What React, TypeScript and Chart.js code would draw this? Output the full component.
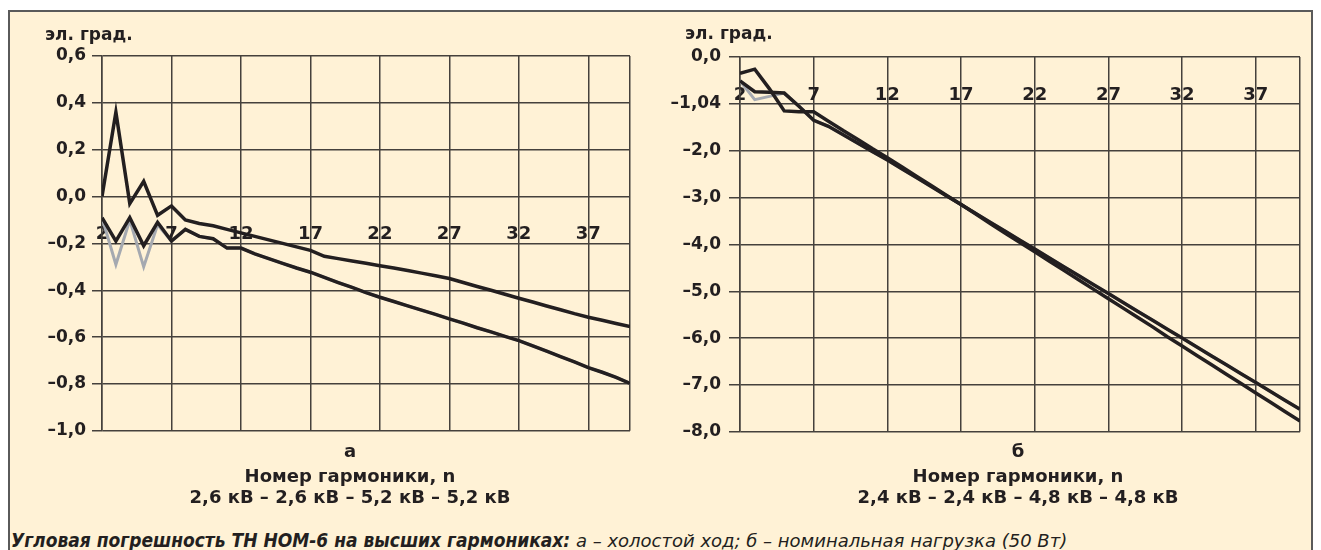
import React, { useEffect, useRef } from 'react';
import { Chart, registerables } from 'chart.js';

Chart.register(...registerables);

// ---------- data ----------
const harmonics = [2, 3, 4, 5, 6, 7, 8, 9, 10, 11, 12, 13, 14, 15, 16, 17, 18, 19, 20, 21, 22, 23, 24, 25, 26, 27, 28, 29, 30, 31, 32, 33, 34, 35, 36, 37, 38, 39, 40];

// panel а – холостой ход
const leftTop = [0.0, 0.36, -0.03, 0.065, -0.08, -0.04, -0.1, -0.115, -0.125, -0.14, -0.155, -0.17, -0.185, -0.2, -0.215, -0.23, -0.255, -0.265, -0.275, -0.285, -0.295, -0.305, -0.316, -0.327, -0.338, -0.35, -0.367, -0.384, -0.4, -0.417, -0.434, -0.45, -0.467, -0.483, -0.5, -0.515, -0.528, -0.542, -0.555];
const leftBottom = [-0.09, -0.19, -0.09, -0.21, -0.11, -0.19, -0.14, -0.17, -0.18, -0.22, -0.22, -0.245, -0.265, -0.285, -0.305, -0.323, -0.345, -0.367, -0.388, -0.41, -0.43, -0.448, -0.467, -0.485, -0.503, -0.522, -0.54, -0.56, -0.578, -0.597, -0.615, -0.637, -0.66, -0.683, -0.706, -0.73, -0.75, -0.772, -0.798];
const leftGray = [-0.09, -0.29, -0.1, -0.3, -0.12, -0.19, -0.14, -0.17, -0.18, -0.22, -0.22, -0.245, -0.265, -0.285, -0.305, -0.323, -0.345, -0.367, -0.388, -0.41, -0.43, -0.448, -0.467, -0.485, -0.503, -0.522, -0.54, -0.56, -0.578, -0.597, -0.615, -0.637, -0.66, -0.683, -0.706, -0.73, -0.75, -0.772, -0.798];

// panel б – номинальная нагрузка
const rightA = [-0.35, -0.26, -0.68, -1.15, -1.17, -1.17, -1.37, -1.57, -1.76, -1.96, -2.15, -2.35, -2.55, -2.75, -2.95, -3.15, -3.35, -3.56, -3.76, -3.96, -4.16, -4.36, -4.56, -4.76, -4.96, -5.16, -5.36, -5.56, -5.76, -5.97, -6.17, -6.37, -6.57, -6.77, -6.97, -7.17, -7.37, -7.57, -7.77];
const rightB = [-0.51, -0.74, -0.75, -0.77, -1.05, -1.35, -1.48, -1.66, -1.84, -2.02, -2.2, -2.39, -2.58, -2.77, -2.96, -3.15, -3.34, -3.53, -3.72, -3.91, -4.1, -4.29, -4.48, -4.67, -4.86, -5.05, -5.24, -5.43, -5.62, -5.81, -6.0, -6.19, -6.38, -6.57, -6.76, -6.95, -7.14, -7.33, -7.52];
const rightGray = [-0.51, -0.91, -0.84, -0.77, -1.05, -1.35, -1.48, -1.66, -1.84, -2.02, -2.2, -2.39, -2.58, -2.77, -2.96, -3.15, -3.34, -3.53, -3.72, -3.91, -4.1, -4.29, -4.48, -4.67, -4.86, -5.05, -5.24, -5.43, -5.62, -5.81, -6.0, -6.19, -6.38, -6.57, -6.76, -6.95, -7.14, -7.33, -7.52];

const xTickValues = [2, 7, 12, 17, 22, 27, 32, 37, 40];
const xTickLabels = ['2', '7', '12', '17', '22', '27', '32', '37', ''];

const leftYTickValues = [0.6, 0.4, 0.2, 0, -0.2, -0.4, -0.6, -0.8, -1.0];
const leftYTickLabels = ['0,6', '0,4', '0,2', '0,0', '–0,2', '–0,4', '–0,6', '–0,8', '–1,0'];
const rightYTickValues = [0, -1, -2, -3, -4, -5, -6, -7, -8];
const rightYTickLabels = ['0,0', '–1,04', '–2,0', '–3,0', '–4,0', '–5,0', '–6,0', '–7,0', '–8,0'];

const unitLabel = 'эл. град.';
const xTitle = 'Номер гармоники, n';
const leftLetter = 'а';
const rightLetter = 'б';
const leftLegend = '2,6 кВ – 2,6 кВ – 5,2 кВ – 5,2 кВ';
const rightLegend = '2,4 кВ – 2,4 кВ – 4,8 кВ – 4,8 кВ';
const captionBold = 'Угловая погрешность ТН НОМ-6 на высших гармониках:';
const captionRest = ' а – холостой ход; б – номинальная нагрузка (50 Вт)';

// ---------- styles ----------
const FONT = "'DejaVu Sans', sans-serif";
const TEXT = '#231f20';
const GRID = '#45413c';
const CREAM = '#fff2d6';
const BLACK = '#231f20';
const GRAY = '#a5a9b0';

type Series = { values: number[]; color: string; width: number };

function buildConfig(
  series: Series[],
  yMin: number,
  yMax: number,
  yTicks: number[],
  yLabels: string[],
  xLabelAt: number,
  yAxisWidth: number,
  padding: { top: number; right: number; bottom: number; left: number },
  yPad: number,
  yTickLen: number
): any {
  return {
    type: 'line',
    data: {
      datasets: series.map((s) => ({
        data: harmonics.map((n, i) => ({ x: n, y: s.values[i] })),
        borderColor: s.color,
        borderWidth: s.width,
        pointRadius: 0,
        tension: 0,
        fill: false,
        borderJoinStyle: 'miter',
        borderCapStyle: 'butt',
      })),
    },
    options: {
      responsive: false,
      animation: false,
      events: [],
      layout: { padding },
      plugins: { legend: { display: false }, tooltip: { enabled: false }, title: { display: false } },
      scales: {
        x: {
          type: 'linear',
          min: 2,
          max: 40,
          position: { y: xLabelAt },
          afterBuildTicks: (s: any) => {
            s.ticks = xTickValues.map((v) => ({ value: v }));
          },
          ticks: {
            autoSkip: false,
            maxRotation: 0,
            padding: 0,
            color: TEXT,
            font: { family: FONT, weight: 'bold', size: 18 },
            callback: (v: number) => {
              const i = xTickValues.indexOf(v);
              return i >= 0 ? xTickLabels[i] : '';
            },
          },
          grid: { color: GRID, lineWidth: 1.5, drawTicks: false },
          border: { display: false },
        },
        y: {
          type: 'linear',
          min: yMin,
          max: yMax,
          afterBuildTicks: (s: any) => {
            s.ticks = yTicks.map((v) => ({ value: v }));
          },
          afterFit: (s: any) => {
            s.width = yAxisWidth;
          },
          ticks: {
            padding: yPad,
            color: TEXT,
            font: { family: FONT, weight: 'bold', size: 17 },
            callback: (v: number) => {
              const i = yTicks.findIndex((t) => Math.abs(t - v) < 1e-9);
              return i >= 0 ? yLabels[i] : '';
            },
          },
          grid: { color: GRID, lineWidth: 1.5, drawTicks: true, tickLength: yTickLen },
          border: { display: true, color: GRID, width: 1.5 },
        },
      },
    },
  };
}

function ChartBox(props: { left: number; top: number; width: number; height: number; config: any }) {
  const ref = useRef<HTMLCanvasElement | null>(null);
  useEffect(() => {
    if (!ref.current) return;
    const chart = new Chart(ref.current, props.config);
    return () => chart.destroy();
  }, []);
  return (
    <canvas
      ref={ref}
      width={props.width}
      height={props.height}
      style={{ position: 'fixed', left: props.left, top: props.top, width: props.width, height: props.height }}
    />
  );
}

const leftConfig = buildConfig(
  [
    { values: leftTop, color: BLACK, width: 3.5 },
    { values: leftBottom, color: BLACK, width: 3.5 },
    { values: leftGray, color: GRAY, width: 3 },
  ],
  -1.0,
  0.6,
  leftYTickValues,
  leftYTickLabels,
  -0.117,
  92,
  { top: 44, right: 20, bottom: 12, left: 0 },
  6,
  10
);

const rightConfig = buildConfig(
  [
    { values: rightA, color: BLACK, width: 3.5 },
    { values: rightB, color: BLACK, width: 3.5 },
    { values: rightGray, color: GRAY, width: 3 },
  ],
  -8,
  0,
  rightYTickValues,
  rightYTickLabels,
  -0.598,
  80,
  { top: 45, right: 10, bottom: 12, left: 0 },
  8,
  11
);

const boldText = (size: number): React.CSSProperties => ({
  position: 'fixed',
  fontFamily: FONT,
  fontWeight: 'bold',
  fontSize: size,
  color: TEXT,
  whiteSpace: 'nowrap',
});

function Centered(props: { cx: number; top: number; text: string; size: number }) {
  return (
    <div style={{ ...boldText(props.size), left: props.cx - 250, width: 500, top: props.top, textAlign: 'center', lineHeight: '22px' }}>
      {props.text}
    </div>
  );
}

export default function App() {
  return (
    <div>
      <div
        style={{
          position: 'fixed',
          left: 8,
          top: 10,
          width: 1305,
          height: 560,
          boxSizing: 'border-box',
          border: '2px solid #5a5a5a',
          background: CREAM,
        }}
      />
      <ChartBox left={10} top={12} width={640} height={435} config={leftConfig} />
      <ChartBox left={660} top={12} width={650} height={438} config={rightConfig} />

      <div style={{ ...boldText(17), left: 45, top: 24, lineHeight: '20px' }}>{unitLabel}</div>
      <div style={{ ...boldText(17), left: 685, top: 23, lineHeight: '20px' }}>{unitLabel}</div>

      <Centered cx={350} top={440} text={leftLetter} size={18} />
      <Centered cx={350} top={465} text={xTitle} size={18} />
      <Centered cx={350} top={486} text={leftLegend} size={18} />

      <Centered cx={1018} top={440} text={rightLetter} size={18} />
      <Centered cx={1018} top={465} text={xTitle} size={18} />
      <Centered cx={1018} top={486} text={rightLegend} size={18} />

      <div
        style={{
          position: 'fixed',
          left: 11,
          top: 529,
          fontStyle: 'italic',
          lineHeight: '22px',
          color: TEXT,
          whiteSpace: 'nowrap',
        }}
      >
        <span
          style={{
            fontFamily: "'Liberation Sans Narrow', 'DejaVu Sans Condensed', 'Arial Narrow', sans-serif",
            fontWeight: 'bold',
            fontSize: 19,
          }}
        >
          {captionBold}
        </span>
        <span style={{ fontFamily: "'DejaVu Sans', sans-serif", fontWeight: 'normal', fontSize: 18 }}>{captionRest}</span>
      </div>
    </div>
  );
}
